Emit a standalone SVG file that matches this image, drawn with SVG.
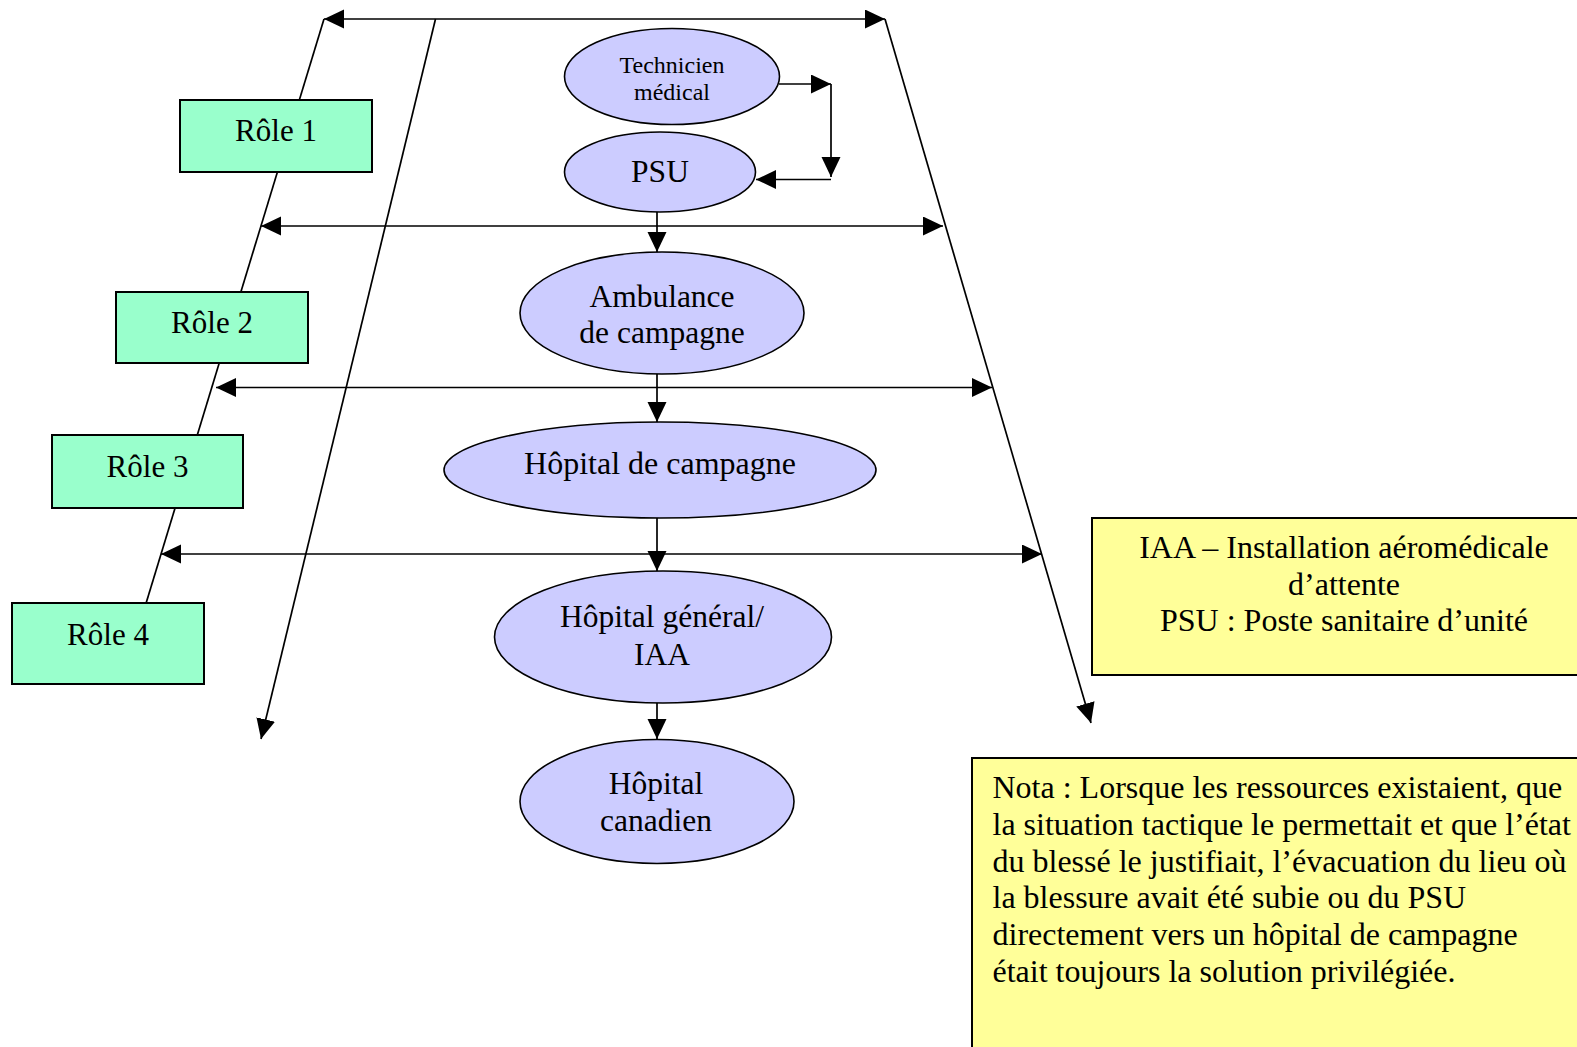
<svg xmlns="http://www.w3.org/2000/svg" width="1577" height="1047" viewBox="0 0 1577 1047">
<style>
  .ln { stroke: #000; stroke-width: 1.7; fill: none; }
  .arr { marker-end: url(#ah); }
  .both { marker-start: url(#ahs); marker-end: url(#ah); }
  .role { fill: #99FFCC; stroke: #000; stroke-width: 2; }
  .ell { fill: #CCCCFF; stroke: #000; stroke-width: 1.6; }
  .note { fill: #FFFF99; stroke: #000; stroke-width: 2; }
  text { font-family: "Liberation Serif", "Times New Roman", serif; fill: #000; }
  .c { text-anchor: middle; }
  .t31 { font-size: 31px; }
  .t315 { font-size: 31.5px; }
  .t32 { font-size: 32px; }
  .t23 { font-size: 24px; }
</style>
<defs>
  <marker id="ah" markerUnits="userSpaceOnUse" markerWidth="21" markerHeight="20" refX="20" refY="9.5" orient="auto">
    <path d="M0,0 L20,9.5 L0,19 z" fill="#000"/>
  </marker>
  <marker id="ahs" markerUnits="userSpaceOnUse" markerWidth="21" markerHeight="20" refX="20" refY="9.5" orient="auto-start-reverse">
    <path d="M0,0 L20,9.5 L0,19 z" fill="#000"/>
  </marker>
</defs>
<rect width="1577" height="1047" fill="#fff"/>

<g id="connectors">
  <line class="ln both" x1="324" y1="19" x2="885" y2="19"/>
  <line class="ln" x1="324" y1="19" x2="144" y2="610"/>
  <line class="ln arr" x1="435.5" y1="19" x2="261" y2="739"/>
  <line class="ln arr" x1="885" y1="19" x2="1091" y2="723"/>
  <line class="ln both" x1="261" y1="226" x2="943" y2="226"/>
  <line class="ln both" x1="216" y1="387.5" x2="992" y2="387.5"/>
  <line class="ln both" x1="161" y1="554" x2="1042" y2="554"/>
  <line class="ln arr" x1="779" y1="84" x2="831" y2="84"/>
  <line class="ln arr" x1="831" y1="84" x2="831" y2="177"/>
  <line class="ln arr" x1="831" y1="179.5" x2="756" y2="179.5"/>
  <line class="ln arr" x1="657" y1="212" x2="657" y2="252"/>
  <line class="ln arr" x1="657" y1="374" x2="657" y2="422"/>
  <line class="ln arr" x1="657" y1="518" x2="657" y2="571"/>
  <line class="ln arr" x1="657" y1="703" x2="657" y2="739"/>
</g>

<g id="role1"><rect class="role" x="180" y="100" width="192" height="72"/><text class="c t31" x="276" y="141">Rôle 1</text></g>
<g id="role2"><rect class="role" x="116" y="292" width="192" height="71"/><text class="c t31" x="212" y="333">Rôle 2</text></g>
<g id="role3"><rect class="role" x="52" y="435" width="191" height="73"/><text class="c t31" x="147.5" y="477">Rôle 3</text></g>
<g id="role4"><rect class="role" x="12" y="603" width="192" height="81"/><text class="c t31" x="108" y="645">Rôle 4</text></g>

<g id="technicien"><ellipse class="ell" cx="672" cy="76.5" rx="107.5" ry="48"/><text class="c t23" x="672" y="72.5">Technicien</text><text class="c t23" x="672" y="99.5">médical</text></g>
<g id="psu"><ellipse class="ell" cx="660" cy="172" rx="95.5" ry="40"/><text class="c t315" x="660" y="182">PSU</text></g>
<g id="ambulance"><ellipse class="ell" cx="662" cy="313" rx="142" ry="61"/><text class="c t315" x="662" y="307">Ambulance</text><text class="c t315" x="662" y="343">de campagne</text></g>
<g id="hopital-campagne"><ellipse class="ell" cx="660" cy="470" rx="216" ry="48"/><text class="c t32" x="660" y="474">Hôpital de campagne</text></g>
<g id="hopital-general"><ellipse class="ell" cx="663" cy="637" rx="168.5" ry="66"/><text class="c t315" x="662" y="627">Hôpital général/</text><text class="c t315" x="662" y="665">IAA</text></g>
<g id="hopital-canadien"><ellipse class="ell" cx="657" cy="801.5" rx="137" ry="62"/><text class="c t315" x="656" y="794">Hôpital</text><text class="c t315" x="656" y="831">canadien</text></g>

<g id="legende"><rect class="note" x="1092" y="518" width="500" height="157"/>
  <text class="c t32" x="1344" y="558">IAA – Installation aéromédicale</text>
  <text class="c t32" x="1344" y="594.5">d’attente</text>
  <text class="c t32" x="1344" y="631">PSU : Poste sanitaire d’unité</text>
</g>
<g id="nota"><rect class="note" x="972" y="758" width="620" height="300"/>
  <text class="t32" x="992.5" y="797.5">Nota : Lorsque les ressources existaient, que</text>
  <text class="t32" x="992.5" y="834.5">la situation tactique le permettait et que l’état</text>
  <text class="t32" x="992.5" y="871.5">du blessé le justifiait, l’évacuation du lieu où</text>
  <text class="t32" x="992.5" y="908.3">la blessure avait été subie ou du PSU</text>
  <text class="t32" x="992.5" y="945">directement vers un hôpital de campagne</text>
  <text class="t32" x="992.5" y="981.7">était toujours la solution privilégiée.</text>
</g>
</svg>
